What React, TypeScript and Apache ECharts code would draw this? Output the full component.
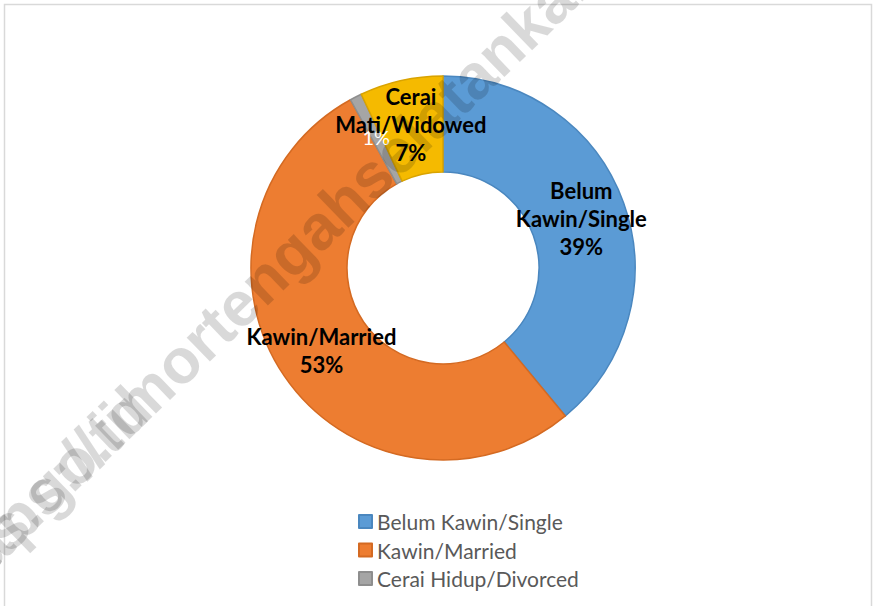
import React, { useEffect, useRef } from "react";
import * as echarts from "echarts";

const categories = [
  "Belum Kawin/Single",
  "Kawin/Married",
  "Cerai Hidup/Divorced",
  "Cerai Mati/Widowed",
];
const values = [39, 53, 1, 7];
const colors = ["#5B9BD5", "#ED7D31", "#A5A5A5", "#F5BA00"];
const borderColors = ["#4A87BF", "#D46A22", "#8E8E8E", "#D9A300"];
const legendNames = ["Belum Kawin/Single", "Kawin/Married", "Cerai Hidup/Divorced"];
const watermark = "https://timortengahselatankab.bps.go.id";

export default function App() {
  const ref = useRef<HTMLDivElement>(null);
  useEffect(() => {
    if (!ref.current) return;
    const chart = echarts.init(ref.current, null, { renderer: "svg" });
    const data = categories.map((name, i) => ({
      name,
      value: values[i],
      itemStyle: { color: colors[i], borderColor: borderColors[i], borderWidth: 1.5 },
      label:
        i === 2
          ? { color: "#ffffff", fontWeight: "normal", fontSize: 20 }
          : undefined,
    }));
    const wmAngle = (44 * Math.PI) / 180;
    const wmFont = "bold 63px 'Liberation Sans', Arial, sans-serif";
    const wmFill = "rgba(0,0,0,0.15)";
    chart.setOption({
      animation: false,
      backgroundColor: "#ffffff",
      legend: {
        data: legendNames,
        orient: "vertical",
        left: 353,
        top: 506,
        itemWidth: 13,
        itemHeight: 13,
        itemGap: 7.5,
        icon: "rect",
        textStyle: { color: "#595959", fontSize: 21, fontFamily: "Lato" },
      },
      graphic: [
        {
          type: "rect",
          z: -1,
          shape: { x: 4.5, y: 4.5, width: 867, height: 640 },
          style: { fill: "none", stroke: "#d9d9d9", lineWidth: 1.5 },
        },
        {
          type: "text",
          z: 10,
          x: -55,
          y: 587,
          rotation: wmAngle,
          silent: true,
          style: {
            text: watermark,
            fill: wmFill,
            font: wmFont,
            textAlign: "left",
            textVerticalAlign: "middle",
          },
        },
        {
          type: "text",
          z: 10,
          x: 140,
          y: 398,
          rotation: wmAngle,
          silent: true,
          style: {
            text: watermark,
            fill: wmFill,
            font: wmFont,
            textAlign: "right",
            textVerticalAlign: "middle",
          },
        },
      ],
      series: [
        {
          type: "pie",
          center: [443, 268],
          radius: [96, 192],
          startAngle: 90,
          clockwise: true,
          avoidLabelOverlap: false,
          labelLayout: { hideOverlap: false },
          z: 2,
          label: {
            show: true,
            position: "inside",
            color: "#000000",
            fontWeight: "bold",
            fontSize: 22,
            lineHeight: 28,
            fontFamily: "Lato",
            formatter: (p: any) => {
              const pct = Math.round(p.percent) + "%";
              if (p.dataIndex === 2) return pct;
              return p.name.replace(" ", "\n") + "\n" + pct;
            },
          },
          labelLine: { show: false },
          emphasis: { disabled: true },
          data,
        },
      ],
    });
    return () => chart.dispose();
  }, []);
  return (
    <div
      ref={ref}
      style={{ position: "absolute", left: 0, top: 0, width: 876, height: 606 }}
    />
  );
}
